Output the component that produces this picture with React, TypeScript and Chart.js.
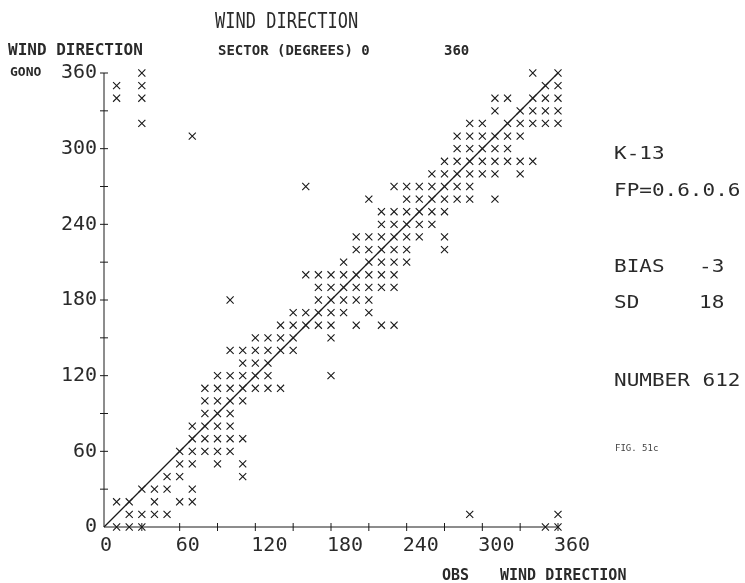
import React, { useEffect, useRef } from 'react';
import { Chart, registerables } from 'chart.js';

Chart.register(...registerables);

// Axis ticks (degrees)
const tickLabels = [0, 60, 120, 180, 240, 300, 360];
const minorStep = 30;

// GONO (forecast) wind direction levels, one row of observed values for each
const gonoLevels = [0, 10, 20, 30, 40, 50, 60, 70, 80, 90, 100, 110, 120, 130, 140, 150, 160, 170, 180,
  190, 200, 210, 220, 230, 240, 250, 260, 270, 280, 290, 300, 310, 320, 330, 340, 350, 360];

// OBS wind direction values plotted at each GONO level
const obsAtLevel = [
  [10, 20, 30, 350, 360],
  [20, 30, 40, 50, 290, 360],
  [10, 20, 40, 60, 70],
  [30, 40, 50, 70],
  [50, 60, 110],
  [60, 70, 90, 110],
  [60, 70, 80, 90, 100],
  [70, 80, 90, 100, 110],
  [70, 80, 90, 100],
  [80, 90, 100],
  [80, 90, 100, 110],
  [80, 90, 100, 110, 120, 130, 140],
  [90, 100, 110, 120, 130, 180],
  [110, 120, 130],
  [100, 110, 120, 130, 140, 150],
  [120, 130, 140, 150, 180],
  [140, 150, 160, 170, 180, 200, 220, 230],
  [150, 160, 170, 180, 190, 210],
  [100, 170, 180, 190, 200, 210],
  [170, 180, 190, 200, 210, 220, 230],
  [160, 170, 180, 190, 200, 210, 220, 230],
  [190, 210, 220, 230, 240],
  [200, 210, 220, 230, 240, 270],
  [200, 210, 220, 230, 240, 250, 270],
  [220, 230, 240, 250, 260],
  [220, 230, 240, 250, 260, 270],
  [210, 240, 250, 260, 270, 280, 290, 310],
  [160, 230, 240, 250, 260, 270, 280, 290],
  [260, 270, 280, 290, 300, 310, 330],
  [270, 280, 290, 300, 310, 320, 330, 340],
  [280, 290, 300, 310, 320],
  [70, 280, 290, 300, 310, 320, 330],
  [30, 290, 300, 320, 330, 340, 350, 360],
  [310, 330, 340, 350, 360],
  [10, 30, 310, 320, 340, 350, 360],
  [10, 30, 350, 360],
  [30, 340, 360],
];

// Perfect-agreement diagonal
const diagonal = [0, 360];

// Annotation texts
const titleText = 'WIND DIRECTION';
const yAxisTitle = 'WIND DIRECTION';
const yAxisSub = 'GONO';
const sectorText = 'SECTOR (DEGREES) 0';
const sectorEnd = '360';
const xAxisObs = 'OBS';
const xAxisTitle = 'WIND DIRECTION';
const statsLabels = ['K-13', 'FP=0.6.0.6', 'BIAS', 'SD', 'NUMBER 612'];
const statsValues = ['', '', '-3', '18', ''];
const figLabel = 'FIG. 51c';

const FONT = '"DejaVu Sans Mono", monospace';
const INK = '#1a1a1a';
const TEXT = '#2a2a2a';

function drawText(
  ctx: CanvasRenderingContext2D,
  text: string,
  x: number,
  baseline: number,
  size: number,
  bold = false,
  sx = 1,
  sy = 1,
  color = TEXT
) {
  ctx.save();
  ctx.font = `${bold ? 'bold ' : ''}${size}px ${FONT}`;
  ctx.fillStyle = color;
  ctx.textAlign = 'left';
  ctx.textBaseline = 'alphabetic';
  ctx.translate(x, baseline);
  ctx.scale(sx, sy);
  ctx.fillText(text, 0, 0);
  ctx.restore();
}

const plotterPlugin = {
  id: 'plotterDecor',
  afterDraw(chart: any) {
    const ctx: CanvasRenderingContext2D = chart.ctx;
    const xs = chart.scales.x;
    const ys = chart.scales.y;
    const x0 = xs.getPixelForValue(0);
    const y0 = ys.getPixelForValue(0);
    ctx.save();
    ctx.strokeStyle = INK;
    ctx.lineWidth = 1;
    // axes
    ctx.beginPath();
    ctx.moveTo(x0, y0);
    ctx.lineTo(xs.getPixelForValue(360), y0);
    ctx.moveTo(x0, y0);
    ctx.lineTo(x0, ys.getPixelForValue(360));
    // crossing tick marks
    for (let v = minorStep; v <= 360; v += minorStep) {
      const px = xs.getPixelForValue(v);
      ctx.moveTo(px, y0 - 4);
      ctx.lineTo(px, y0 + 4);
      const py = ys.getPixelForValue(v);
      ctx.moveTo(x0 - 4, py);
      ctx.lineTo(x0 + 4, py);
    }
    ctx.stroke();
    ctx.restore();

    // header texts
    drawText(ctx, titleText, 215, 28, 17, false, 1, 1.22);
    drawText(ctx, yAxisTitle, 8, 55, 16, true, 1, 1);
    drawText(ctx, sectorText, 218, 55, 14, true, 1, 1);
    drawText(ctx, sectorEnd, 444, 55, 14, true, 1, 1);
    drawText(ctx, yAxisSub, 10, 76, 13, true, 1, 1);
    // bottom axis title
    drawText(ctx, xAxisObs, 442, 580, 15, true, 1, 1);
    drawText(ctx, xAxisTitle, 500, 580, 15, true, 1, 1);
    // statistics block
    const baselines = [159, 196, 272, 308, 386];
    statsLabels.forEach((t, i) => {
      drawText(ctx, t, 614, baselines[i], 21, false, 1, 0.88);
      if (statsValues[i]) drawText(ctx, statsValues[i], 699, baselines[i], 21, false, 1, 0.88);
    });
    drawText(ctx, figLabel, 615, 451, 9, false, 1, 1, '#444');
  },
};

export default function App() {
  const ref = useRef<HTMLCanvasElement | null>(null);

  useEffect(() => {
    document.body.style.margin = '0';
    const canvas = ref.current;
    if (!canvas) return;

    const points: { x: number; y: number }[] = [];
    gonoLevels.forEach((g, i) => {
      obsAtLevel[i].forEach((o) => points.push({ x: o, y: g }));
    });

    const tickFont = { family: FONT, size: 20 };

    const chart = new Chart(canvas, {
      type: 'scatter',
      data: {
        datasets: [
          {
            type: 'line',
            label: 'diagonal',
            data: diagonal.map((v) => ({ x: v, y: v })),
            borderColor: INK,
            borderWidth: 1.2,
            pointRadius: 0,
            fill: false,
            clip: false,
          } as any,
          {
            type: 'scatter',
            label: 'GONO vs OBS',
            data: points,
            pointStyle: 'crossRot',
            pointRadius: 5,
            pointBorderWidth: 1.1,
            borderColor: INK,
            backgroundColor: INK,
            clip: false,
          } as any,
        ],
      },
      options: {
        animation: false,
        responsive: false,
        devicePixelRatio: 1,
        layout: { padding: { left: 0, top: 73, right: 187, bottom: 0 } },
        plugins: {
          legend: { display: false },
          title: { display: false },
          tooltip: { enabled: false },
        },
        scales: {
          x: {
            type: 'linear',
            min: 0,
            max: 360,
            afterFit: (s: any) => {
              s.height = 56;
            },
            afterBuildTicks: (s: any) => {
              s.ticks = tickLabels.map((v) => ({ value: v }));
            },
            grid: { display: false, drawTicks: false, tickLength: 0 },
            border: { display: false },
            ticks: {
              font: tickFont,
              color: TEXT,
              align: 'start',
              labelOffset: -4,
              padding: 7,
              maxRotation: 0,
              autoSkip: false,
            },
          },
          y: {
            type: 'linear',
            min: 0,
            max: 360,
            afterFit: (s: any) => {
              s.width = 104;
            },
            afterBuildTicks: (s: any) => {
              s.ticks = tickLabels.map((v) => ({ value: v }));
            },
            grid: { display: false, drawTicks: false, tickLength: 0 },
            border: { display: false },
            ticks: {
              font: tickFont,
              color: TEXT,
              padding: 7,
              autoSkip: false,
            },
          },
        },
      } as any,
      plugins: [plotterPlugin],
    });

    return () => chart.destroy();
  }, []);

  return (
    <div style={{ position: 'absolute', left: 0, top: 0, width: 745, height: 583, background: '#fff' }}>
      <canvas ref={ref} width={745} height={583} style={{ width: 745, height: 583 }} />
    </div>
  );
}
